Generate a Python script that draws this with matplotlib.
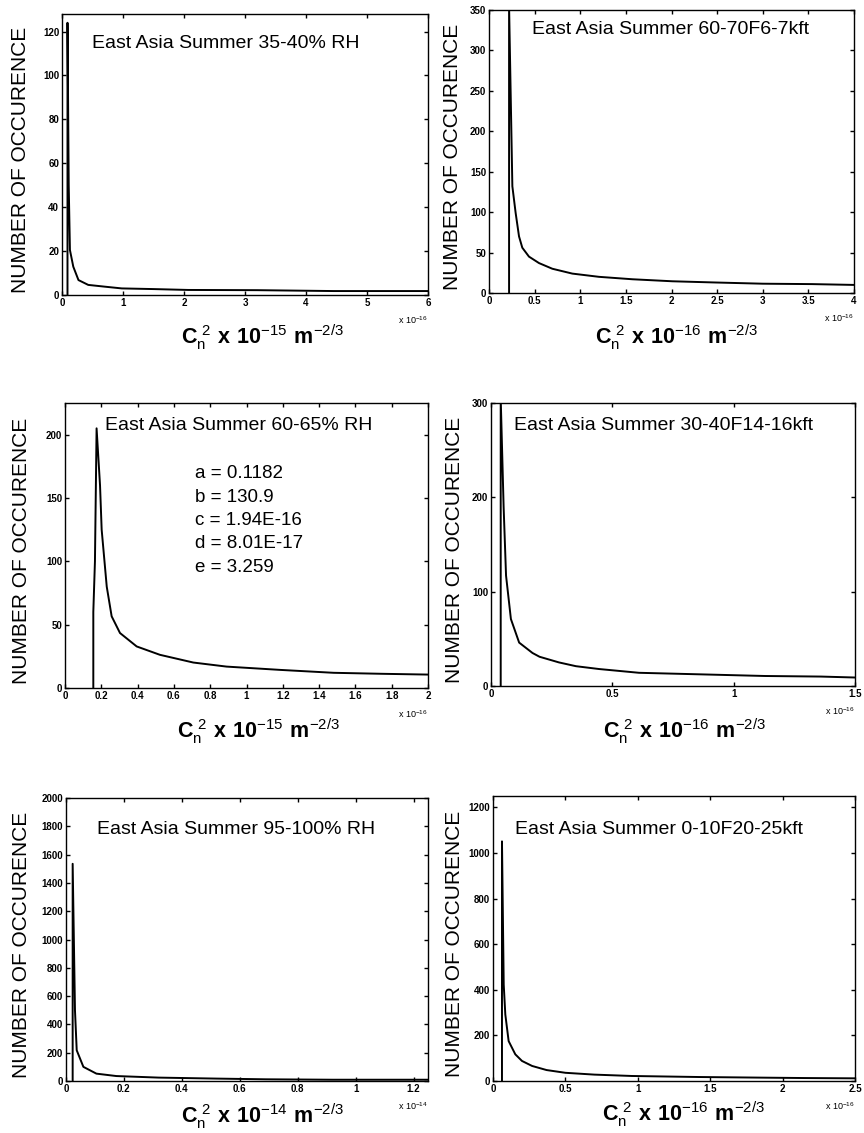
import numpy as np
import matplotlib
matplotlib.use('Agg')
import matplotlib.pyplot as plt

plt.rcParams['font.family'] = ['Liberation Sans', 'DejaVu Sans']
plt.rcParams['mathtext.fontset'] = 'custom'
plt.rcParams['mathtext.rm'] = 'Liberation Sans'
plt.rcParams['mathtext.bf'] = 'Liberation Sans:bold'

# ---------------------------------------------------------------------------
# Data (x in units of the axis multiplier)
# ---------------------------------------------------------------------------
titles = ['East Asia Summer 35-40% RH', 'East Asia Summer 60-70F6-7kft',
          'East Asia Summer 60-65% RH', 'East Asia Summer 30-40F14-16kft',
          'East Asia Summer 95-100% RH', 'East Asia Summer 0-10F20-25kft']
exps = [-15, -16, -15, -16, -14, -16]
mult = [-16, -16, -16, -16, -14, -16]

p1_x = [0.09, 0.09, 0.11, 0.13, 0.185, 0.27, 0.43, 0.70, 0.98, 1.5, 2.07, 3.2, 4.45, 6.0]
p1_y = [0, 124, 50, 20.5, 12.9, 6.8, 4.6, 3.8, 3.0, 2.7, 2.3, 2.2, 1.8, 1.8]

p2_x = [0.22, 0.22, 0.256, 0.292, 0.329, 0.365, 0.438, 0.548, 0.694, 0.913, 1.205, 1.571,
        2.009, 2.48, 3.0, 3.54, 4.0]
p2_y = [0, 355, 132, 99, 70, 56, 45, 37, 30, 24, 20, 17, 14.5, 13, 11.5, 11, 10]

p3_x = [0.156, 0.156, 0.165, 0.174, 0.193, 0.202, 0.23, 0.257, 0.303, 0.395, 0.523, 0.707,
        0.89, 1.185, 1.48, 1.75, 2.0]
p3_y = [0, 60, 100, 205, 160, 125, 80, 56.6, 43.4, 32.8, 26.2, 20.1, 16.9, 14.3, 12, 11.2, 10.6]

p4_x = [0.04, 0.04, 0.052, 0.062, 0.082, 0.116, 0.171, 0.2, 0.28, 0.35, 0.445, 0.61, 0.856,
        1.13, 1.36, 1.5]
p4_y = [0, 305, 190, 117, 71, 46, 35, 31, 25, 21, 18, 14, 12.4, 10.6, 10, 9]

p5_x = [0.023, 0.023, 0.031, 0.037, 0.06, 0.105, 0.174, 0.32, 0.52, 0.69, 0.92, 1.25]
p5_y = [0, 1535, 500, 217, 100, 52, 35, 24, 17, 12, 9, 9]

p6_x = [0.062, 0.062, 0.074, 0.085, 0.108, 0.154, 0.2, 0.27, 0.37, 0.5, 0.7, 0.96, 1.42, 1.88,
        2.15, 2.5]
p6_y = [0, 1051, 423, 292, 175, 117, 88, 66, 48, 36, 28, 22, 17.5, 14.6, 13, 11.7]

xs = [p1_x, p2_x, p3_x, p4_x, p5_x, p6_x]
ys = [p1_y, p2_y, p3_y, p4_y, p5_y, p6_y]

xlims = [6, 4, 2, 1.5, 1.25, 2.5]
xticks = [np.arange(0, 6.1, 1), np.arange(0, 4.1, 0.5), np.arange(0, 2.01, 0.2),
          np.arange(0, 1.51, 0.5), np.arange(0, 1.21, 0.2), np.arange(0, 2.51, 0.5)]
ylims = [128, 350, 225, 300, 2000, 1250]
yticks = [np.arange(0, 121, 20), np.arange(0, 351, 50), np.arange(0, 201, 50),
          np.arange(0, 301, 100), np.arange(0, 2001, 200), np.arange(0, 1201, 200)]

fit_text = 'a = 0.1182\nb = 130.9\nc = 1.94E-16\nd = 8.01E-17\ne = 3.259'

# axes boxes in pixels: left, right, top, bottom
boxes = [(62, 428, 14, 295), (489, 854, 10, 293),
         (65, 428, 403, 688), (491, 855, 403, 686),
         (66, 428, 798, 1081), (493, 855, 796, 1081)]
title_pos = [(92, 43), (532, 30), (105, 425), (514, 425), (97, 830), (515, 830)]
xlabel_pos = [(263, 337), (677, 337), (259, 731), (685, 731), (263, 1116), (684, 1114)]
ylabel_pos = [21, 452, 22, 454, 22, 454]

W, H = 864, 1133
fig = plt.figure(figsize=(W / 100, H / 100), dpi=100)

for i in range(6):
    l, r, t, b = boxes[i]
    ax = fig.add_axes([l / W, 1 - b / H, (r - l) / W, (b - t) / H])
    ax.plot(xs[i], ys[i], color='black', linewidth=1.4)
    ax.set_xlim(0, xlims[i])
    ax.set_ylim(0, ylims[i])
    ax.set_xticks(xticks[i])
    ax.set_yticks(yticks[i])
    ax.set_xticklabels(['%g' % v for v in xticks[i]])
    ax.set_yticklabels(['%g' % v for v in yticks[i]])
    ax.tick_params(direction='in', top=True, right=True, length=3, width=1,
                   labelsize=7, pad=2)
    for lab in ax.get_xticklabels() + ax.get_yticklabels():
        lab.set_fontweight('bold')
    for s in ax.spines.values():
        s.set_linewidth(1.0)

    ax.set_ylabel('NUMBER OF OCCURENCE', fontsize=15)
    ax.yaxis.set_label_coords((ylabel_pos[i] - l) / (r - l), 0.48)
    ax.yaxis.label.set_va('center')

    lx, ly = xlabel_pos[i]
    xl = (r'$\mathbf{C}_\mathrm{n}^{\ \mathrm{2}}\ \mathbf{x\ 10}^{\mathrm{%d}}'
          r'\ \mathbf{m}^{\mathrm{-2/3}}$' % exps[i])
    ax.set_xlabel(xl, fontsize=15.5)
    ax.xaxis.set_label_coords((lx - l) / (r - l), (b - ly) / (b - t))
    ax.xaxis.label.set_va('center')

    ax.text(1.0, -0.09, r'x 10$^{%d}$' % mult[i], transform=ax.transAxes,
            ha='right', va='center', fontsize=6.5)
    tx, ty = title_pos[i]
    ax.text((tx - l) / (r - l), (b - ty) / (b - t), titles[i],
            transform=ax.transAxes, ha='left', va='center', fontsize=14)

# fitted parameters shown in the 60-65% RH panel
l, r, t, b = boxes[2]
fig.axes[2].text((195 - l) / (r - l), (b - 465) / (b - t), fit_text,
                 transform=fig.axes[2].transAxes, ha='left', va='top',
                 fontsize=13.5, linespacing=1.5)

fig.savefig('out.png', dpi=100)
